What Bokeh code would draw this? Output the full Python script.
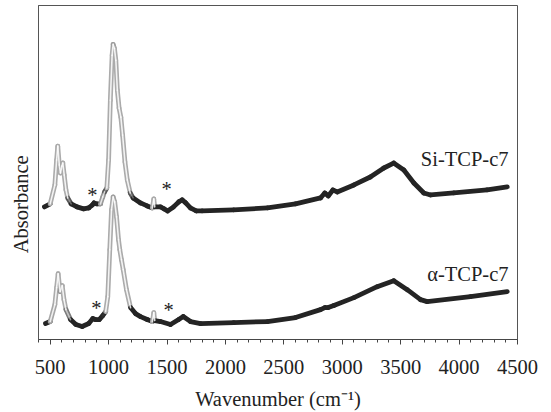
import numpy as np
from bokeh.plotting import figure
from bokeh.models import Range1d, FixedTicker, Label, ColumnDataSource, BoxAnnotation
from bokeh.embed import file_html
from bokeh.resources import INLINE

# ---- data (arbitrary absorbance units, spectra offset) ----
wn_si = [451, 500, 540, 555, 565, 578, 588, 600, 608, 620, 635, 650, 680, 730, 786,
         830, 862, 875, 900, 930, 950, 965, 985, 1000, 1015, 1030, 1039, 1050, 1062,
         1075, 1090, 1105, 1120, 1140, 1160, 1185, 1210, 1273, 1330, 1375, 1387, 1395,
         1444, 1475, 1505, 1556, 1600, 1630, 1660, 1700, 1750, 1800, 2070, 2360, 2600,
         2814, 2850, 2880, 2920, 2957, 3100, 3240, 3356, 3440, 3527, 3613, 3698, 3756,
         3955, 4240, 4412]
abs_si = [13.4, 13.7, 15.6, 18.1, 19.5, 17.6, 16.8, 17.5, 17.8, 16.6, 15.1, 14.3, 13.7,
          13.4, 13.2, 13.3, 13.6, 13.8, 13.7, 13.7, 14.4, 14.9, 15.3, 18.1, 24.1, 28.6,
          29.7, 29.3, 28.1, 25.1, 23.3, 22.4, 20.6, 17.9, 16.1, 14.8, 14.3, 13.8, 13.5,
          13.3, 14.2, 13.4, 13.4, 13.2, 13.0, 13.4, 13.9, 14.1, 13.8, 13.3, 13.0, 13.0,
          13.1, 13.3, 13.7, 14.3, 14.8, 14.5, 15.1, 14.9, 15.6, 16.4, 17.3, 17.8, 17.1,
          15.8, 14.8, 14.6, 14.8, 15.1, 15.4]

wn_a = [460, 500, 540, 555, 568, 585, 603, 618, 635, 674, 720, 774, 830, 865, 885,
        920, 950, 975, 993, 1010, 1025, 1039, 1052, 1068, 1085, 1096, 1110, 1125, 1153,
        1188, 1230, 1273, 1330, 1375, 1387, 1395, 1444, 1530, 1600, 1639, 1701, 1787,
        2072, 2360, 2600, 2814, 2851, 2880, 2928, 3100, 3299, 3441, 3556, 3670, 3727,
        4098, 4412]
abs_a = [1.7, 1.9, 3.6, 5.3, 6.7, 4.9, 5.5, 4.1, 3.1, 2.1, 1.6, 1.4, 1.7, 2.2, 2.1,
         2.1, 2.5, 2.9, 4.4, 9.1, 13.1, 14.4, 13.9, 12.4, 10.1, 9.1, 8.1, 7.1, 5.1,
         3.3, 2.7, 2.4, 2.1, 1.9, 2.8, 2.0, 1.9, 1.6, 2.1, 2.4, 1.9, 1.7, 1.8, 1.9,
         2.3, 3.1, 3.3, 3.3, 3.5, 4.3, 5.4, 6.0, 5.1, 4.1, 3.9, 4.4, 4.9]

x_major_ticks = [500, 1000, 1500, 2000, 2500, 3000, 3500, 4000, 4500]
x_minor_ticks = list(range(400, 4501, 100))
series_names = ["Si-TCP-c7", "\u03b1-TCP-c7"]

FONT = "Liberation Serif"
X0, X1, Y0, Y1 = 400, 4500, 0.1, 33.6
W, H = 545, 412
ML, MR, MT, MB = 38, 28, 5, 72

p = figure(width=W, height=H, output_backend="svg", toolbar_location=None,
           x_range=Range1d(X0, X1), y_range=Range1d(Y0, Y1),
           min_border_left=ML, min_border_right=MR, min_border_top=MT,
           min_border_bottom=MB)
p.grid.visible = False
p.outline_line_color = "#555555"
p.outline_line_width = 1
p.background_fill_color = "white"
p.border_fill_color = "white"
p.add_layout(BoxAnnotation(fill_color=None, line_color="#555555", line_width=1,
                           level="overlay"))

# x axis
xa = p.xaxis[0]
xa.ticker = FixedTicker(ticks=x_major_ticks, minor_ticks=x_minor_ticks)
xa.axis_line_color = "#444444"
xa.major_tick_line_color = "#444444"
xa.minor_tick_line_color = "#444444"
xa.major_tick_in = 0
xa.major_tick_out = 5
xa.minor_tick_in = 0
xa.minor_tick_out = 3
xa.major_label_text_font = FONT
xa.major_label_text_font_size = "20.5px"
xa.major_label_text_color = "#222222"
xa.major_label_standoff = 15
xa.axis_label = "Wavenumber (cm\u207b\u00b9)"
xa.axis_label_text_font = FONT
xa.axis_label_text_font_size = "20.5px"
xa.axis_label_text_font_style = "normal"
xa.axis_label_text_color = "#222222"
xa.axis_label_standoff = 11

# y axis: line and title only
ya = p.yaxis[0]
ya.ticker = FixedTicker(ticks=[])
ya.axis_line_color = "#555555"
ya.major_tick_line_color = None
ya.minor_tick_line_color = None
ya.axis_label = "Absorbance\u2003\u2003\u2002\u2009\u2009\u2009"
ya.axis_label_text_font = FONT
ya.axis_label_text_font_size = "20.5px"
ya.axis_label_text_font_style = "normal"
ya.axis_label_text_color = "#222222"
ya.axis_label_standoff = 7

# spectra drawn as thick bands; only very steep stretches turn light (sparse markers)
PX_X = (W - ML - MR) / (X1 - X0)
PX_Y = (H - MT - MB) / (Y1 - Y0)


def band(wn, ab):
    xs, ys, cols, inner_a = [], [], [], []
    for i in range(len(wn) - 1):
        dx = (wn[i + 1] - wn[i]) * PX_X
        dy = (ab[i + 1] - ab[i]) * PX_Y
        s = abs(dy) / np.hypot(dx, dy)
        f = float(np.clip((s - 0.8) / 0.17, 0.0, 1.0))
        g = int(36 + f * 135)
        xs.append([wn[i], wn[i + 1]])
        ys.append([ab[i], ab[i + 1]])
        cols.append("#%02x%02x%02x" % (g, g, g))
        inner_a.append(f * 0.85)
    src = ColumnDataSource(dict(xs=xs, ys=ys, c=cols, a=inner_a))
    p.multi_line("xs", "ys", source=src, line_color="c", line_width=4.8,
                 line_cap="round", line_join="round")
    p.multi_line("xs", "ys", source=src, line_color="white", line_alpha="a",
                 line_width=1.6, line_cap="round")


band(wn_si, abs_si)
band(wn_a, abs_a)


def txt(x, y, t, align="left", size="20.5px"):
    p.add_layout(Label(x=x, y=y, text=t, text_font=FONT, text_font_size=size,
                       text_color="#222222", text_align=align,
                       text_baseline="middle"))


txt(4423, 18.2, series_names[0], align="right")
txt(4423, 6.7, series_names[1], align="right")
txt(862, 14.6, "*", align="center")
txt(1496, 15.2, "*", align="center")
txt(896, 3.3, "*", align="center")
txt(1513, 3.1, "*", align="center")

open("out.html", "w").write(file_html(p, INLINE))
